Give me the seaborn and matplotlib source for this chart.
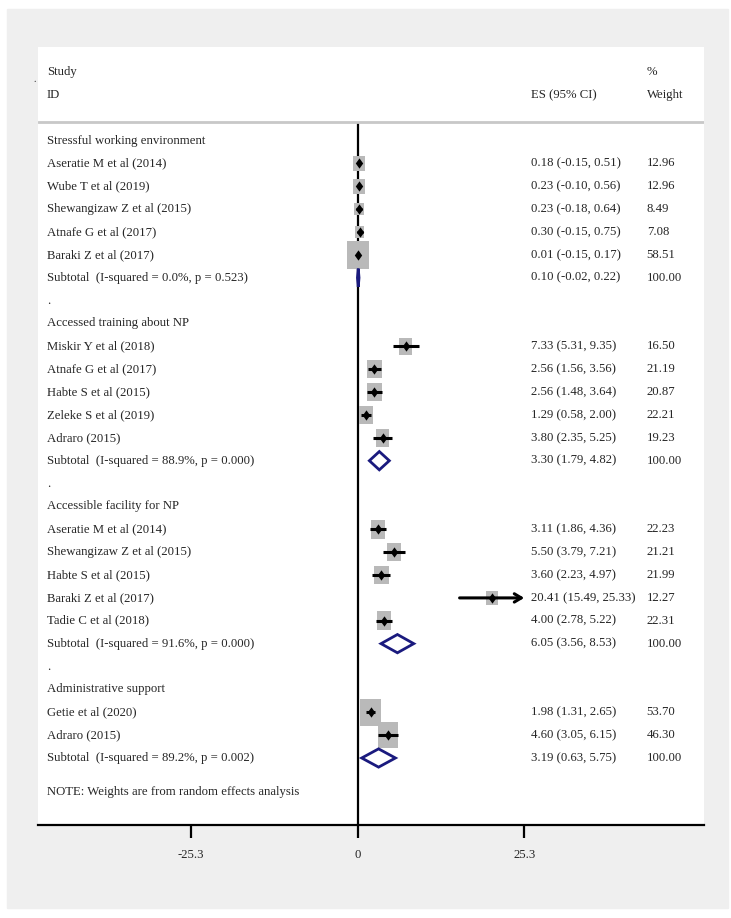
import numpy as np
import pandas as pd
import seaborn as sns
import matplotlib.pyplot as plt
from matplotlib.patches import Rectangle, Polygon
from matplotlib.path import Path
import matplotlib.transforms as mtransforms

# %% data
groups = ["Stressful working environment", "Accessed training about NP",
          "Accessible facility for NP", "Administrative support"]
studies = [
    ["Aseratie M et al (2014)", "Wube T et al (2019)", "Shewangizaw Z et al (2015)",
     "Atnafe G et al (2017)", "Baraki Z et al (2017)"],
    ["Miskir Y et al (2018)", "Atnafe G et al (2017)", "Habte S et al (2015)",
     "Zeleke S et al (2019)", "Adraro (2015)"],
    ["Aseratie M et al (2014)", "Shewangizaw Z et al (2015)", "Habte S et al (2015)",
     "Baraki Z et al (2017)", "Tadie C et al (2018)"],
    ["Getie et al (2020)", "Adraro (2015)"],
]
es = [[0.18, 0.23, 0.23, 0.30, 0.01],
      [7.33, 2.56, 2.56, 1.29, 3.80],
      [3.11, 5.50, 3.60, 20.41, 4.00],
      [1.98, 4.60]]
lci = [[-0.15, -0.10, -0.18, -0.15, -0.15],
       [5.31, 1.56, 1.48, 0.58, 2.35],
       [1.86, 3.79, 2.23, 15.49, 2.78],
       [1.31, 3.05]]
uci = [[0.51, 0.56, 0.64, 0.75, 0.17],
       [9.35, 3.56, 3.64, 2.00, 5.25],
       [4.36, 7.21, 4.97, 25.33, 5.22],
       [2.65, 6.15]]
weight = [[12.96, 12.96, 8.49, 7.08, 58.51],
          [16.50, 21.19, 20.87, 22.21, 19.23],
          [22.23, 21.21, 21.99, 12.27, 22.31],
          [53.70, 46.30]]
sub_es = [0.10, 3.30, 6.05, 3.19]
sub_lci = [-0.02, 1.79, 3.56, 0.63]
sub_uci = [0.22, 4.82, 8.53, 5.75]
sub_i2 = [0.0, 88.9, 91.6, 89.2]
sub_p = [0.523, 0.000, 0.000, 0.002]
xticks = [-25.3, 0, 25.3]

# %% build row table
rows = []
r = 0
for g in range(len(groups)):
    if g > 0:
        rows.append(dict(row=r, label=".", kind="dot")); r += 1
    rows.append(dict(row=r, label=groups[g], kind="head")); r += 1
    for j in range(len(studies[g])):
        rows.append(dict(row=r, label=studies[g][j], kind="study", es=es[g][j],
                         lci=lci[g][j], uci=uci[g][j], weight=weight[g][j])); r += 1
    rows.append(dict(row=r, label=f"Subtotal  (I-squared = {sub_i2[g]:.1f}%, p = {sub_p[g]:.3f})",
                     kind="sub", es=sub_es[g], lci=sub_lci[g], uci=sub_uci[g], weight=100.0)); r += 1
df = pd.DataFrame(rows)
st = df[df.kind == "study"].copy()
st["box"] = st.weight ** 0.84
sub = df[df.kind == "sub"]

# the original export is squeezed sideways, so boxes/diamonds are taller than wide
box_mk = Path([(-0.39, -0.5), (0.39, -0.5), (0.39, 0.5), (-0.39, 0.5), (-0.39, -0.5)],
              [Path.MOVETO, Path.LINETO, Path.LINETO, Path.LINETO, Path.CLOSEPOLY])
dia_mk = Path([(0, -0.5), (0.36, 0), (0, 0.5), (-0.36, 0), (0, -0.5)],
              [Path.MOVETO, Path.LINETO, Path.LINETO, Path.LINETO, Path.CLOSEPOLY])

# %% plot
sns.set_style("white")
plt.rcParams["font.family"] = ["Liberation Serif", "DejaVu Serif"]
fs = 9.2

fig = plt.figure(figsize=(7.31, 9.18), dpi=100)
fig.patches.append(Rectangle((6.5 / 731, 10 / 918), 721.5 / 731, 899 / 918,
                             transform=fig.transFigure, color="#efefef", zorder=-10))
fig.text(35 / 731, 1 - 80 / 918, ".", fontsize=7, ha="center", va="center")
ax = fig.add_axes([37.5 / 731, 93 / 918, 666.5 / 731, 778 / 918])
ax.set_zorder(1)
ax.set_facecolor("white")
xmax = xticks[-1]

ax.axhline(-0.82, color="#c8c8c8", lw=2)
ax.vlines(0, -0.82, 30, color="black", lw=1.6, zorder=1)

sns.scatterplot(data=st, x="es", y="row", size="box", sizes=(0, 415), size_norm=(0, 60 ** 0.84),
                marker=box_mk, color="#b9b9b9", linewidth=0, legend=False, ax=ax, zorder=2)
inside = st[st.uci <= xmax]
ax.hlines(inside.row, inside.lci, inside.uci, color="black", lw=2.2, zorder=3)
for _, s in st[st.uci > xmax].iterrows():
    ax.annotate("", xy=(xmax, s.row), xytext=(s.lci, s.row),
                arrowprops=dict(arrowstyle="->,head_length=0.5,head_width=0.3",
                                color="black", lw=2.2, shrinkA=0, shrinkB=0), zorder=3)
sns.scatterplot(data=st, x="es", y="row", marker=dia_mk, color="black", s=55,
                linewidth=0, legend=False, ax=ax, zorder=4)

for _, s in sub.iterrows():
    h = 0.4
    ax.add_patch(Polygon([(s.lci, s.row), (s.es, s.row - h), (s.uci, s.row), (s.es, s.row + h)],
                         closed=True, fill=False, edgecolor="#1a1a7e", lw=2, zorder=3))

# text columns
tr = mtransforms.blended_transform_factory(ax.transAxes, ax.transData)
x_lab, x_es, x_wt = 0.0143, 0.740, 0.914
for _, s in df.iterrows():
    ax.text(x_lab, s.row, s.label, transform=tr, va="center", fontsize=fs)
    if s.kind in ("study", "sub"):
        ax.text(x_es, s.row, f"{s.es:.2f} ({s.lci:.2f}, {s.uci:.2f})", transform=tr,
                va="center", fontsize=fs)
        ax.text(x_wt, s.row, f"{s.weight:.2f}", transform=tr, va="center", fontsize=fs)
ax.text(x_lab, -3.0, "Study", transform=tr, va="center", fontsize=fs)
ax.text(x_lab, -2.0, "ID", transform=tr, va="center", fontsize=fs)
ax.text(x_es, -2.0, "ES (95% CI)", transform=tr, va="center", fontsize=fs)
ax.text(x_wt, -3.0, "%", transform=tr, va="center", fontsize=fs)
ax.text(x_wt, -2.0, "Weight", transform=tr, va="center", fontsize=fs)
ax.text(x_lab, 28.5, "NOTE: Weights are from random effects analysis", transform=tr,
        va="center", fontsize=fs)

ax.set_xlim(-48.6, 52.6)
ax.set_ylim(29.93, -4.09)
ax.set_xticks(xticks)
ax.set_xticklabels(["-25.3", "0", "25.3"], fontsize=fs)
ax.set_yticks([])
ax.set_xlabel("")
ax.set_ylabel("")
for sp in ["top", "left", "right"]:
    ax.spines[sp].set_visible(False)
ax.spines["bottom"].set_color("black")
ax.spines["bottom"].set_linewidth(1.6)
ax.tick_params(axis="x", direction="out", length=9.5, width=1.6, color="black", pad=8,
               bottom=True)

plt.savefig("out.png", dpi=100)
plt.close()
